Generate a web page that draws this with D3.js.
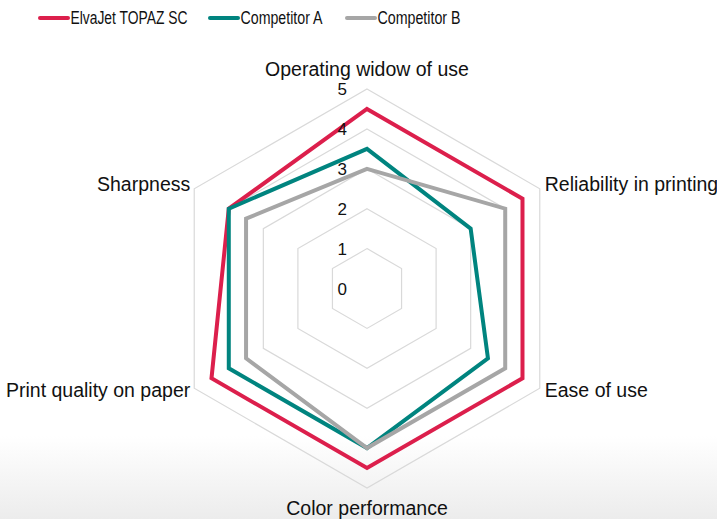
<!DOCTYPE html>
<html>
<head>
<meta charset="utf-8">
<script src="https://cdn.jsdelivr.net/npm/d3@7"></script>
<style>
body { margin: 0; background: #fff; }
text { font-family: "Liberation Sans", Arial, Helvetica, sans-serif; fill: #111; }
</style>
</head>
<body>
<div id="chart"></div>
<script>
var axes = ["Operating widow of use", "Reliability in printing", "Ease of use", "Color performance", "Print quality on paper", "Sharpness"];
var seriesNames = ["ElvaJet TOPAZ SC", "Competitor A", "Competitor B"];
var elvajet = [4.5, 4.5, 4.5, 4.5, 4.5, 4];
var competitorA = [3.5, 3, 3.5, 4, 4, 4];
var competitorB = [3, 4, 4, 4, 3.5, 3.5];
var ticks = [0, 1, 2, 3, 4, 5];

var colors = ["#dc1f4c", "#00847f", "#a6a6a6"];

function draw() {
    var width = 717;
    var height = 519;
    var cx = 367;
    var cy = 288.5;

    var svg = d3.select("#chart")
    .append("svg")
    .attr("width", width)
    .attr("height", height);

    // faint grey fade at the bottom of the page
    var grad = svg.append("defs")
    .append("linearGradient")
    .attr("id", "bgfade")
    .attr("x1", 0).attr("y1", 0)
    .attr("x2", 0).attr("y2", 1);
    grad.append("stop").attr("offset", "0.84").attr("stop-color", "#ffffff");
    grad.append("stop").attr("offset", "1").attr("stop-color", "#ececec");

    svg.append("rect")
    .attr("width", width)
    .attr("height", height)
    .attr("fill", "url(#bgfade)");

    var r = d3.scaleLinear().domain([0, 5]).range([0, 199.5]);
    var angle = d3.scalePoint().domain(axes).range([0, 2 * Math.PI * 5 / 6]);

    var g = svg.append("g")
    .attr("transform", "translate(" + cx + "," + cy + ")");

    var ring = d3.lineRadial()
    .angle(function(d) { return angle(d.axis); })
    .radius(function(d) { return r(d.value); })
    .curve(d3.curveLinearClosed);

    // grid hexagons
    g.selectAll("path.grid")
    .data(ticks.filter(function(t) { return t > 0; }))
    .enter()
    .append("path")
    .attr("class", "grid")
    .attr("d", function(t) {
        return ring(axes.map(function(a) { return {axis: a, value: t}; }));
    })
    .attr("fill", "none")
    .attr("stroke", "#d9d9d9")
    .attr("stroke-width", 1.2);

    // series
    var allSeries = [elvajet, competitorA, competitorB];
    g.selectAll("path.series")
    .data(allSeries)
    .enter()
    .append("path")
    .attr("class", "series")
    .attr("d", function(vals) {
        return ring(vals.map(function(v, i) { return {axis: axes[i], value: v}; }));
    })
    .attr("fill", "none")
    .attr("stroke", function(d, i) { return colors[i]; })
    .attr("stroke-width", 4)
    .attr("stroke-linejoin", "miter");

    // tick labels
    g.selectAll("text.tick")
    .data(ticks)
    .enter()
    .append("text")
    .attr("class", "tick")
    .attr("x", -20)
    .attr("y", function(t) { return -r(t); })
    .attr("dy", "0.36em")
    .attr("text-anchor", "end")
    .style("font-size", "17px")
    .text(function(t) { return t; });

    // axis labels
    g.selectAll("text.axis")
    .data(axes)
    .enter()
    .append("text")
    .attr("class", "axis")
    .each(function(a) {
        var t = angle(a);
        var x = Math.sin(t) * r(5);
        var y = -Math.cos(t) * r(5);
        var sel = d3.select(this);
        if (Math.abs(Math.sin(t)) < 0.01) {
            sel.attr("text-anchor", "middle")
            .attr("x", x)
            .attr("y", y < 0 ? y - 13 : y + 27);
        } else {
            sel.attr("text-anchor", x > 0 ? "start" : "end")
            .attr("x", x > 0 ? x + 5 : x - 4)
            .attr("y", y < 0 ? y + 2 : y + 9);
        }
    })
    .style("font-size", "19.5px")
    .text(function(a) { return a; });

    // legend
    var legendX = [40, 210, 347];
    var legendW = [117, 82, 83];
    var legend = svg.selectAll("g.legend")
    .data(seriesNames)
    .enter()
    .append("g")
    .attr("class", "legend")
    .attr("transform", function(d, i) { return "translate(" + legendX[i] + ",18)"; });

    legend.append("line")
    .attr("x1", 0)
    .attr("x2", 28)
    .attr("stroke", function(d, i) { return colors[i]; })
    .attr("stroke-width", 4)
    .attr("stroke-linecap", "round");

    // legend font is a condensed face in the original
    legend.append("text")
    .attr("x", 30.5)
    .attr("dy", "0.36em")
    .attr("textLength", function(d, i) { return legendW[i]; })
    .attr("lengthAdjust", "spacingAndGlyphs")
    .style("font-size", "17.5px")
    .text(function(d) { return d; });
}

draw();
</script>
</body>
</html>
